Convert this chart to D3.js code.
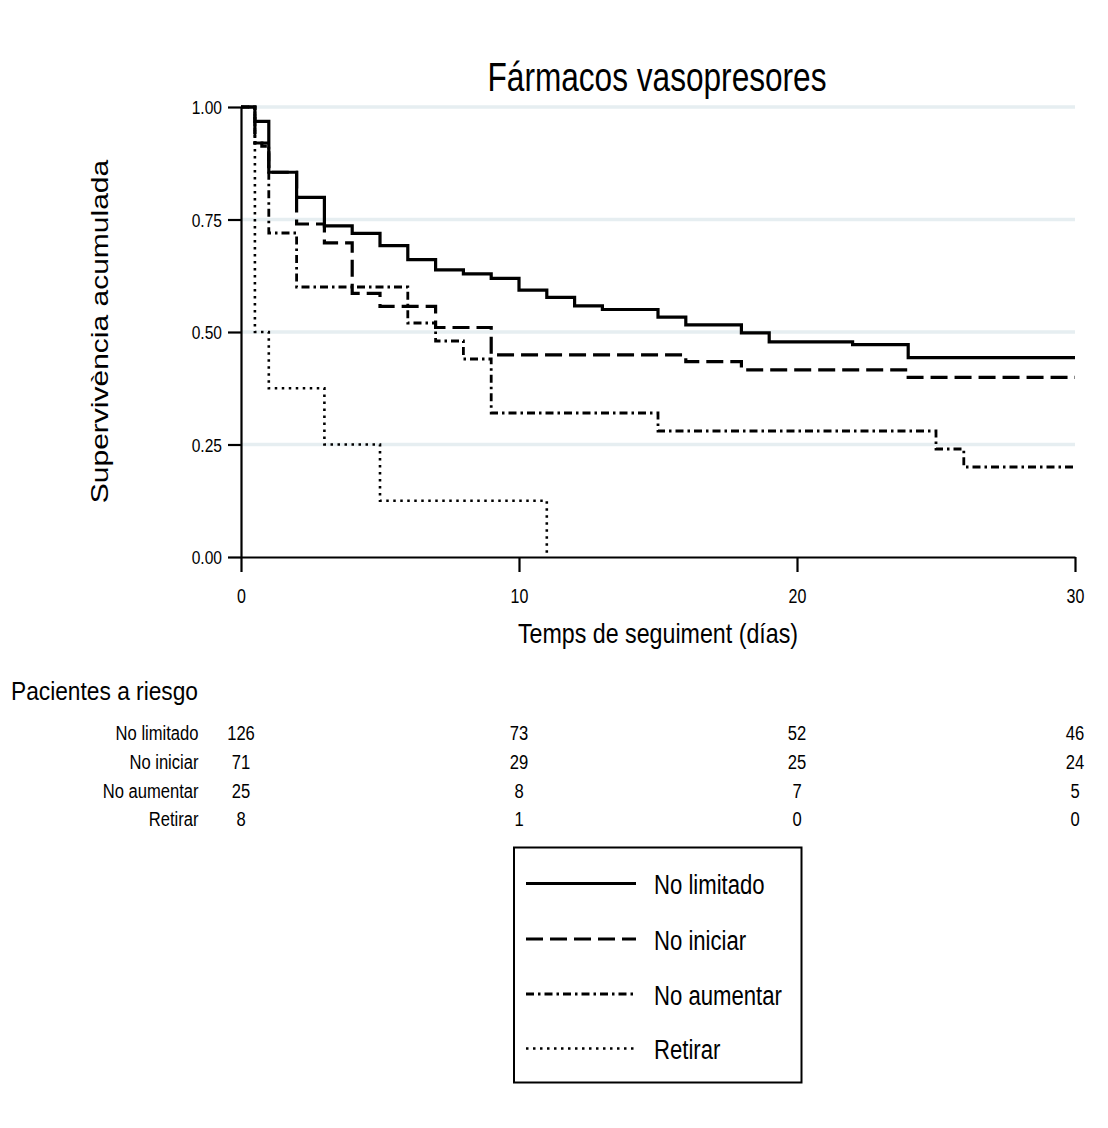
<!DOCTYPE html>
<html>
<head>
<meta charset="utf-8">
<script src="https://cdn.jsdelivr.net/npm/d3@7"></script>
<style>
  html, body { margin: 0; padding: 0; background: #fff; }
  text { font-family: "Liberation Sans", Arial, sans-serif; fill: #000; }
</style>
</head>
<body>
<svg id="chart" width="1108" height="1128"></svg>
<script>
// ---------- data ----------
const title = "Fármacos vasopresores";
const yLabel = "Supervivència acumulada";
const xLabel = "Temps de seguiment (días)";
const riskTitle = "Pacientes a riesgo";
const groups = ["No limitado", "No iniciar", "No aumentar", "Retirar"];
const xTicks = [0, 10, 20, 30];
const yTicks = [0, 0.25, 0.5, 0.75, 1];

const tNoLimitado = [0, 0.5, 1, 2, 3, 4, 5, 6, 7, 8, 9, 10, 11, 12, 13, 15, 16, 18, 19, 22, 24, 30];
const sNoLimitado = [1, 0.968, 0.855, 0.799, 0.736, 0.719, 0.692, 0.661, 0.638, 0.629, 0.619, 0.593, 0.577, 0.558, 0.550, 0.533, 0.516, 0.498, 0.478, 0.472, 0.443, 0.443];

const tNoIniciar = [0, 0.5, 0.75, 1, 2, 3, 4, 5, 7, 9, 16, 18, 24, 30];
const sNoIniciar = [1, 0.92, 0.913, 0.855, 0.74, 0.698, 0.586, 0.557, 0.51, 0.449, 0.434, 0.416, 0.399, 0.399];

const tNoAumentar = [0, 0.5, 1, 2, 6, 7, 8, 9, 15, 25, 26, 30];
const sNoAumentar = [1, 0.92, 0.72, 0.60, 0.52, 0.48, 0.44, 0.32, 0.28, 0.24, 0.20, 0.20];

const tRetirar = [0, 0.5, 1, 3, 5, 11];
const sRetirar = [1, 0.5, 0.375, 0.25, 0.125, 0];

const riskNoLimitado = [126, 73, 52, 46];
const riskNoIniciar = [71, 29, 25, 24];
const riskNoAumentar = [25, 8, 7, 5];
const riskRetirar = [8, 1, 0, 0];

// ---------- setup ----------
const svg = d3.select("#chart");
const x = d3.scaleLinear().domain([0, 30]).range([241, 1075]);
const y = d3.scaleLinear().domain([0, 1]).range([557, 107]);

const styles = [
  { dash: null, width: 3.2 },
  { dash: "17,7", width: 3.2 },
  { dash: "8,4,2.5,4", width: 2.8 },
  { dash: "2.5,4.5", width: 2.6 }
];

function txt(g, px, py, str, size, anchor, sx, extra) {
  return g.append("text")
    .attr("transform", `translate(${px},${py}) scale(${sx},1)` + (extra || ""))
    .attr("text-anchor", anchor)
    .attr("font-size", size)
    .text(str);
}

// gridlines
svg.append("g").selectAll("line").data(yTicks.filter(d => d > 0)).join("line")
  .attr("x1", x(0)).attr("x2", x(30))
  .attr("y1", d => y(d)).attr("y2", d => y(d))
  .attr("stroke", "#e6eef1").attr("stroke-width", 3.5);

// axes
const yAxis = svg.append("g").attr("transform", `translate(${x(0)},0)`)
  .call(d3.axisLeft(y).tickValues(yTicks).tickSize(13).tickSizeOuter(0).tickFormat(d3.format(".2f")));
const xAxis = svg.append("g").attr("transform", `translate(0,${y(0)})`)
  .call(d3.axisBottom(x).tickValues(xTicks).tickSize(15).tickSizeOuter(0).tickFormat(d3.format("d")));
[yAxis, xAxis].forEach(a => {
  a.select(".domain").attr("stroke", "#000").attr("stroke-width", 2.2);
  a.selectAll(".tick line").attr("stroke", "#000").attr("stroke-width", 2.2);
});
yAxis.selectAll(".tick text")
  .attr("x", null).attr("dy", null)
  .attr("transform", "translate(-19,6.5) scale(0.82,1)")
  .attr("font-size", 19).attr("font-family", null);
xAxis.selectAll(".tick text")
  .attr("y", null).attr("dy", null)
  .attr("transform", "translate(0,46) scale(0.8,1)")
  .attr("font-size", 20).attr("font-family", null);

// curves
const line = d3.line().x(d => x(d[0])).y(d => y(d[1])).curve(d3.curveStepAfter);
const series = [
  d3.zip(tNoLimitado, sNoLimitado),
  d3.zip(tNoIniciar, sNoIniciar),
  d3.zip(tNoAumentar, sNoAumentar),
  d3.zip(tRetirar, sRetirar)
];
const curves = svg.append("g");
[3, 2, 1, 0].forEach(i => {
  curves.append("path").attr("d", line(series[i]))
    .attr("fill", "none").attr("stroke", "#000")
    .attr("stroke-width", styles[i].width)
    .attr("stroke-dasharray", styles[i].dash);
});

// titles
svg.append("text").attr("x", 657).attr("y", 91).attr("text-anchor", "middle")
  .attr("font-size", 40).attr("textLength", 339).attr("lengthAdjust", "spacingAndGlyphs").text(title);
txt(svg, 107.5, 331.5, yLabel, 30, "middle", 0.8, " rotate(-90)");
svg.append("text").attr("x", 658).attr("y", 643).attr("text-anchor", "middle")
  .attr("font-size", 28).attr("textLength", 280).attr("lengthAdjust", "spacingAndGlyphs").text(xLabel);

// risk table
svg.append("text").attr("x", 11).attr("y", 700).attr("font-size", 26)
  .attr("textLength", 187).attr("lengthAdjust", "spacingAndGlyphs").text(riskTitle);
const risks = [riskNoLimitado, riskNoIniciar, riskNoAumentar, riskRetirar];
const rowY = [740, 768.5, 797.5, 826];
groups.forEach((gname, i) => {
  txt(svg, 198.5, rowY[i], gname, 21, "end", 0.79);
  risks[i].forEach((v, j) => txt(svg, x(xTicks[j]), rowY[i], String(v), 21, "middle", 0.79));
});

// legend
const lg = svg.append("g");
lg.append("rect").attr("x", 514).attr("y", 847.5).attr("width", 287.5).attr("height", 235)
  .attr("fill", "#fff").attr("stroke", "#000").attr("stroke-width", 2);
const legY = [883.5, 939, 994, 1048.5];
const legTextY = [894, 950, 1004.5, 1058.5];
groups.forEach((gname, i) => {
  lg.append("line").attr("x1", 526).attr("x2", 636).attr("y1", legY[i]).attr("y2", legY[i])
    .attr("stroke", "#000").attr("stroke-width", styles[i].width)
    .attr("stroke-dasharray", styles[i].dash);
  txt(lg, 654, legTextY[i], gname, 28, "start", 0.79);
});
</script>
</body>
</html>
